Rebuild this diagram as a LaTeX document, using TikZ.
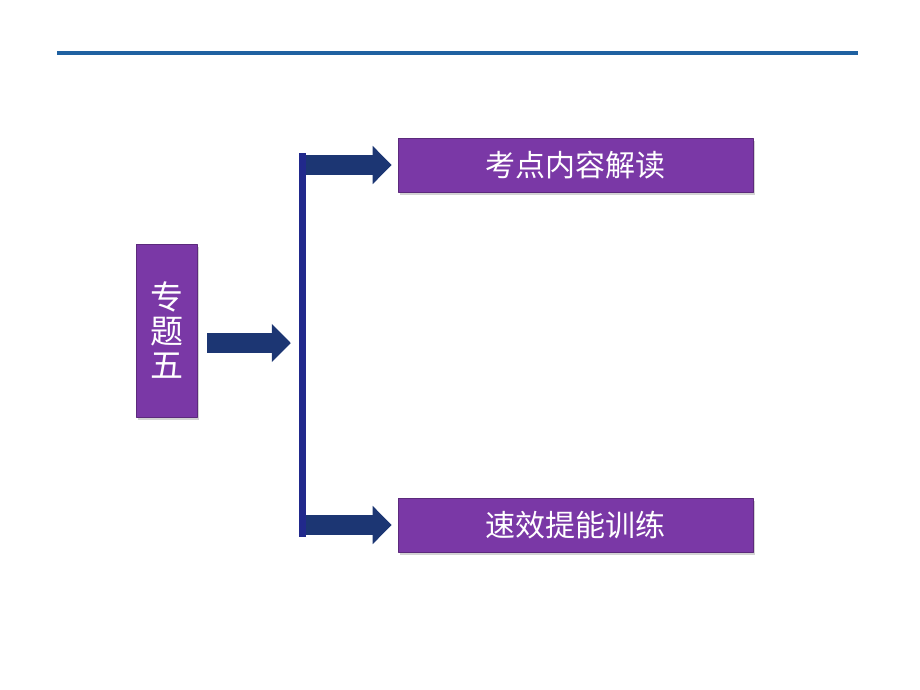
\documentclass[tikz,border=0pt]{standalone}
\usepackage{fontspec}
\newfontfamily\cjk{Noto Sans CJK SC}
\usetikzlibrary{arrows.meta,shadows,positioning,calc}
\definecolor{qqffcc}{rgb}{0.12,0.38,0.63}
\definecolor{zzqqaa}{rgb}{0.48,0.22,0.65}
\definecolor{qqttbb}{rgb}{0.11,0.21,0.45}
\definecolor{qqqqcc}{rgb}{0.13,0.16,0.55}
\begin{document}
\begin{tikzpicture}[x=1pt,y=-1pt,line cap=round,line join=round,
	box/.style={fill=zzqqaa,draw=zzqqaa!75!black,line width=0.6pt,text=white,inner sep=0pt,
		drop shadow={shadow xshift=2pt,shadow yshift=-2.5pt,opacity=0.35},
		font=\cjk\fontsize{30}{34}\selectfont},
	fat/.style={line width=20pt,color=qqttbb,line cap=butt,-{Triangle[length=19pt,width=37pt]}}]
	\useasboundingbox (0,0) rectangle (920,690);
	\draw [line width=4pt,color=qqffcc,line cap=butt] (57,53)-- (858,53);
	% boxes
	\node[box,minimum width=61pt,minimum height=173pt,align=center,
		font=\cjk\fontsize{33}{34}\selectfont] (topic) at (166.5,330.5) {专\\题\\五};
	\node[box,minimum width=355pt,minimum height=54pt] (content) at (575.5,165) {考点内容解读};
	\node[box,minimum width=355pt,minimum height=54pt] (practice) at (575.5,525) {速效提能训练};
	\node[fill=qqqqcc,minimum width=7pt,minimum height=384pt,inner sep=0pt] (bar) at (302.5,345) {};
	% arrows
	\coordinate (split) at (bar.west |- 0,343);
	\draw [fat,shorten <=10pt,shorten >=8pt] (topic.east |- split)-- (split);
	\draw [fat,shorten >=6pt] (bar.east |- content)-- (content.west);
	\draw [fat,shorten >=6pt] (bar.east |- practice)-- (practice.west);
\end{tikzpicture}
\end{document}
